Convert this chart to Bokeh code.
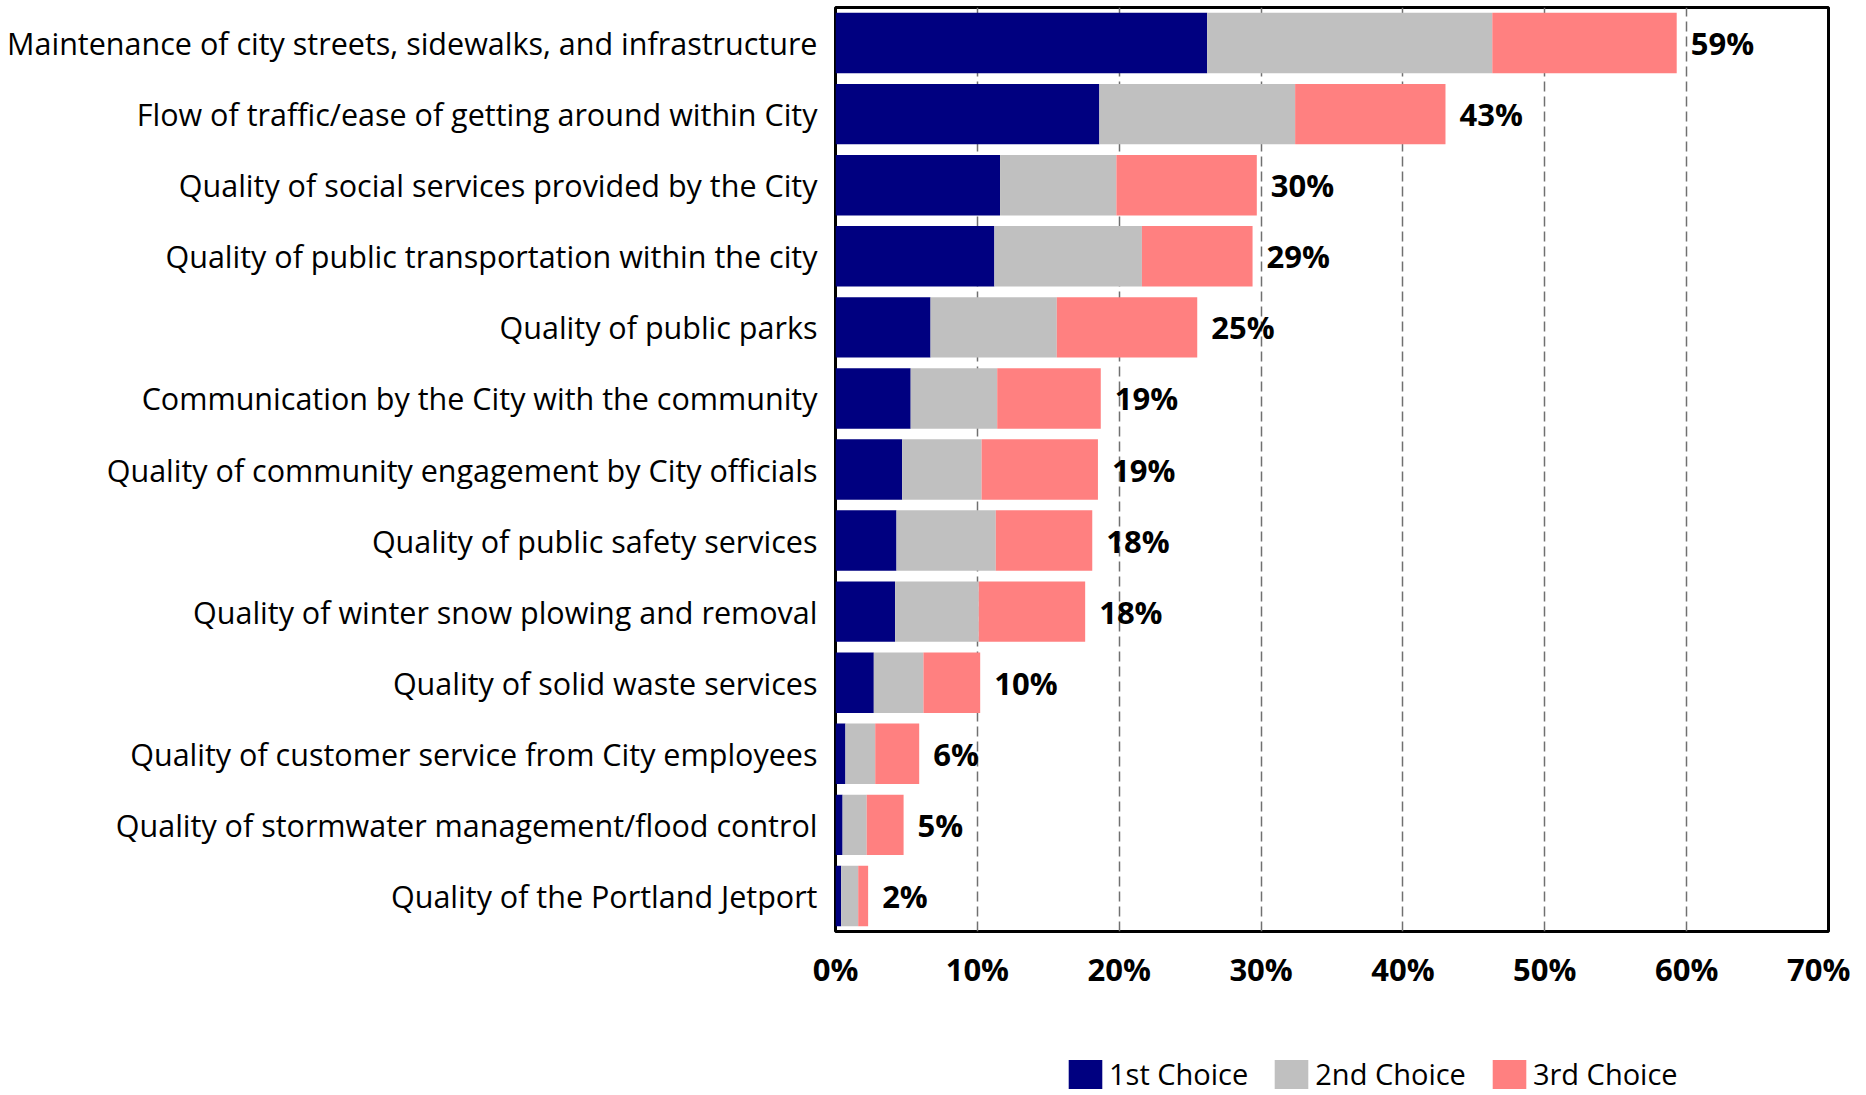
from bokeh.plotting import figure
from bokeh.layouts import column
from bokeh.models import FactorRange, Range1d, FixedTicker, Legend, LegendItem, ColumnDataSource
from bokeh.embed import file_html
from bokeh.resources import INLINE
from bokeh.core.properties import value

categories = [
    "Maintenance of city streets, sidewalks, and infrastructure",
    "Flow of traffic/ease of getting around within City",
    "Quality of social services provided by the City",
    "Quality of public transportation within the city",
    "Quality of public parks",
    "Communication by the City with the community",
    "Quality of community engagement by City officials",
    "Quality of public safety services",
    "Quality of winter snow plowing and removal",
    "Quality of solid waste services",
    "Quality of customer service from City employees",
    "Quality of stormwater management/flood control",
    "Quality of the Portland Jetport",
]
first_choice = [26.2, 18.6, 11.6, 11.2, 6.7, 5.3, 4.7, 4.3, 4.2, 2.7, 0.7, 0.5, 0.4]
second_choice = [20.1, 13.8, 8.2, 10.4, 8.9, 6.1, 5.6, 7.0, 5.9, 3.5, 2.1, 1.7, 1.2]
third_choice = [13.0, 10.6, 9.9, 7.8, 9.9, 7.3, 8.2, 6.8, 7.5, 4.0, 3.1, 2.6, 0.7]
total_labels = ["59%", "43%", "30%", "29%", "25%", "19%", "19%", "18%", "18%", "10%", "6%", "5%", "2%"]
x_ticks = [0, 10, 20, 30, 40, 50, 60, 70]
x_tick_labels = ["0%", "10%", "20%", "30%", "40%", "50%", "60%", "70%"]
series_names = ["1st Choice", "2nd Choice", "3rd Choice"]
colors = ["#000080", "#C0C0C0", "#FF8080"]

FONT = "Open Sans"
W = 1850
H_MAIN = 1010
H_LEG = 83

ends = [a + b + c for a, b, c in zip(first_choice, second_choice, third_choice)]
source = ColumnDataSource(data={
    "cat": categories,
    "1st Choice": first_choice,
    "2nd Choice": second_choice,
    "3rd Choice": third_choice,
    "end": ends,
    "label": total_labels,
})

p = figure(
    width=W, height=H_MAIN,
    y_range=FactorRange(factors=categories[::-1]),
    x_range=Range1d(0, 70),
    output_backend="svg", toolbar_location=None,
    min_border_left=835, min_border_right=22, min_border_top=7, min_border_bottom=H_MAIN - 931,
)

p.hbar_stack(series_names, y="cat", height=0.85, color=colors, line_color=None, source=source)

p.text(x="end", y="cat", text="label", source=source, x_offset=14,
       text_baseline="middle", text_align="left",
       text_font=value(FONT), text_font_style="bold", text_font_size="31px", text_color="black")

p.outline_line_color = "black"
p.outline_line_width = 3

p.xaxis.ticker = FixedTicker(ticks=x_ticks)
p.xaxis.major_label_overrides = {t: l for t, l in zip(x_ticks, x_tick_labels)}
p.xaxis.axis_line_color = None
p.xaxis.major_tick_line_color = None
p.xaxis.minor_tick_line_color = None
p.xaxis.major_label_text_font = FONT
p.xaxis.major_label_text_font_style = "bold"
p.xaxis.major_label_text_font_size = "31px"
p.xaxis.major_label_text_color = "black"
p.xaxis.major_label_standoff = 10

p.yaxis.axis_line_color = None
p.yaxis.major_tick_line_color = None
p.yaxis.minor_tick_line_color = None
p.yaxis.major_label_text_font = FONT
p.yaxis.major_label_text_font_size = "30.5px"
p.yaxis.major_label_text_color = "black"
p.yaxis.major_label_standoff = 12

p.ygrid.grid_line_color = None
p.xgrid.ticker = FixedTicker(ticks=x_ticks)
p.xgrid.grid_line_color = "#707070"
p.xgrid.grid_line_dash = "10 5"
p.xgrid.grid_line_width = 1.5

# legend strip below the chart (frames are aligned with the main chart)
lf = figure(width=W, height=H_LEG, output_backend="svg", toolbar_location=None,
            x_axis_location=None, y_axis_location=None,
            x_range=Range1d(0, 1), y_range=Range1d(0, 1),
            min_border_left=0, min_border_right=0, min_border_top=0, min_border_bottom=0)
lf.outline_line_color = None
lf.xgrid.grid_line_color = None
lf.ygrid.grid_line_color = None
# zero-width placeholder bars: only their legend swatches are visible
leg_renderers = [lf.hbar(y=[0.5], left=[0], right=[0], height=0, color=c, line_color=None) for c in colors]
legend = Legend(
    items=[LegendItem(label=n, renderers=[r]) for n, r in zip(series_names, leg_renderers)],
    orientation="horizontal", location=(229, 0),
    label_text_font=FONT, label_text_font_size="29px", label_text_color="black",
    glyph_width=42, glyph_height=36, label_standoff=3, spacing=22,
    padding=0, margin=0, border_line_color=None, background_fill_alpha=0,
)
lf.add_layout(legend, "center")

layout = column(p, lf, spacing=0)
open("out.html", "w").write(file_html(layout, INLINE))
